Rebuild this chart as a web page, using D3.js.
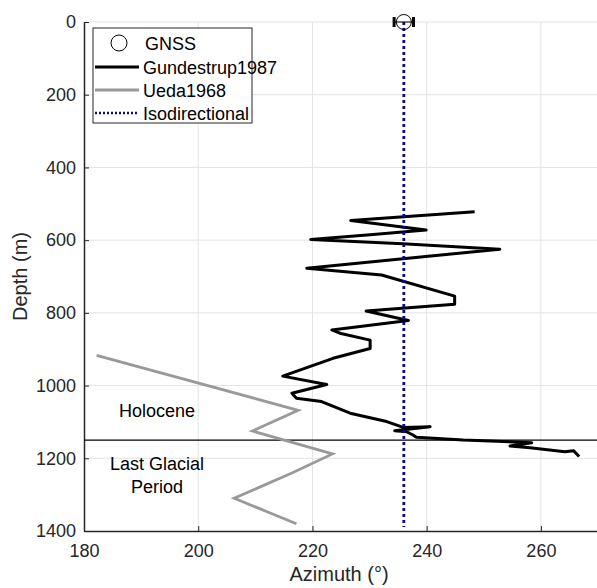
<!DOCTYPE html>
<html>
<head>
<meta charset="utf-8">
<script src="https://cdn.jsdelivr.net/npm/d3@7"></script>
<style>
  body { margin: 0; background: #fff; }
  text { font-family: "Liberation Sans", Arial, Helvetica, sans-serif; }
</style>
</head>
<body>
<div id="container"></div>
<script>
// chart size
const width = 597, height = 588,
  margin = { top: 22, bottom: 57, left: 84, right: 0 };

// DATA
// Gundestrup1987 borehole profile: azimuth (deg), depth (m)
const gundAz = [248.4, 226.7, 239.9, 230.1, 219.7, 235.8, 252.8, 219.0, 232.1, 244.9, 244.9, 229.4, 236.8, 223.4, 224.8, 230.1, 230.1, 223.6, 214.8, 222.5, 216.4, 217.2, 221.6, 226.6, 233.0, 235.9, 240.6, 234.4, 236.5, 237.6, 238.2, 246.4, 258.4, 254.6, 258.1, 264.2, 265.7, 266.7];
const gundDepth = [522, 546, 572, 585, 598, 610, 625, 677, 696, 754, 776, 795, 821, 847, 856, 875, 898, 925, 974, 997, 1021, 1035, 1044, 1076, 1099, 1115, 1113, 1124, 1127, 1136, 1142, 1150, 1157, 1166, 1171, 1182, 1179, 1195];
// Ueda1968
const uedaAz = [182.2, 217.5, 209.5, 223.5, 216.5, 206.3, 217.2];
const uedaDepth = [917, 1068, 1125, 1188, 1240, 1310, 1380];
// GNSS surface azimuth with error
const gnssAz = 236, gnssDepth = 0, gnssErr = 1.7;
// isodirectional reference
const isoAz = 236;
// Holocene / Last Glacial boundary
const boundaryDepth = 1150;

const xTicks = [180, 200, 220, 240, 260];
const yTicks = [0, 200, 400, 600, 800, 1000, 1200, 1400];
const legendLabels = ["GNSS", "Gundestrup1987", "Ueda1968", "Isodirectional"];

const axisColor = "#262626", gridColor = "#e3e3e3";

// SCALES
const xScale = d3.scaleLinear().domain([180, 270]).range([margin.left, width - margin.right + 1]);
const yScale = d3.scaleLinear().domain([0, 1400]).range([margin.top, height - margin.bottom]);

const svg = d3.select("#container").append("svg")
  .attr("width", width).attr("height", height);

// grid
svg.append("g").selectAll("line.gx")
  .data(xTicks.slice(1))
  .join("line")
  .attr("x1", d => xScale(d)).attr("x2", d => xScale(d))
  .attr("y1", yScale(0)).attr("y2", yScale(1400))
  .attr("stroke", gridColor).attr("stroke-width", 1);
svg.append("g").selectAll("line.gy")
  .data(yTicks.slice(0, -1))
  .join("line")
  .attr("x1", xScale(180)).attr("x2", xScale(270))
  .attr("y1", d => yScale(d)).attr("y2", d => yScale(d))
  .attr("stroke", gridColor).attr("stroke-width", 1);

// axes (ticks inside, like matlab)
const xAxis = d3.axisBottom(xScale).tickValues(xTicks).tickFormat(d3.format("d"))
  .tickSizeInner(-5).tickSizeOuter(0).tickPadding(13);
const yAxis = d3.axisLeft(yScale).tickValues(yTicks).tickFormat(d3.format("d"))
  .tickSizeInner(-5).tickSizeOuter(0).tickPadding(8);

const gx = svg.append("g")
  .attr("transform", `translate(0,${yScale(1400)})`)
  .call(xAxis);
const gy = svg.append("g")
  .attr("transform", `translate(${xScale(180)},0)`)
  .call(yAxis);
[gx, gy].forEach(g => {
  g.select(".domain").attr("stroke", axisColor).attr("stroke-width", 1.5);
  g.selectAll(".tick line").attr("stroke", axisColor);
  g.selectAll(".tick text").attr("fill", axisColor).style("font-size", "18px")
    .style("font-family", "'Liberation Sans', Arial, sans-serif");
});

// axis labels
svg.append("text")
  .attr("x", (xScale(180) + xScale(270)) / 2 - 2).attr("y", 581)
  .attr("text-anchor", "middle").attr("fill", axisColor)
  .style("font-size", "20px").text("Azimuth (°)");
svg.append("text")
  .attr("transform", `translate(27,${(yScale(0) + yScale(1400)) / 2}) rotate(-90)`)
  .attr("text-anchor", "middle").attr("fill", axisColor)
  .style("font-size", "20px").text("Depth (m)");

// boundary line
svg.append("line")
  .attr("x1", xScale(180)).attr("x2", xScale(270))
  .attr("y1", yScale(boundaryDepth)).attr("y2", yScale(boundaryDepth))
  .attr("stroke", "#000").attr("stroke-width", 1.2);

const line = d3.line().x(d => xScale(d[0])).y(d => yScale(d[1]));

// Ueda
svg.append("path")
  .datum(uedaAz.map((a, i) => [a, uedaDepth[i]]))
  .attr("d", line)
  .attr("fill", "none").attr("stroke", "#999999").attr("stroke-width", 2.8);

// Gundestrup
svg.append("path")
  .datum(gundAz.map((a, i) => [a, gundDepth[i]]))
  .attr("d", line)
  .attr("fill", "none").attr("stroke", "#000").attr("stroke-width", 3)
  .attr("stroke-linejoin", "round");

// isodirectional
svg.append("line")
  .attr("x1", xScale(isoAz)).attr("x2", xScale(isoAz))
  .attr("y1", yScale(0)).attr("y2", yScale(1400) - 4)
  .attr("stroke", "#0a0a8c").attr("stroke-width", 2.8)
  .attr("stroke-dasharray", "3,3");

// GNSS point with horizontal error bar
const gy0 = yScale(gnssDepth);
svg.append("line")
  .attr("x1", xScale(gnssAz - gnssErr)).attr("x2", xScale(gnssAz + gnssErr))
  .attr("y1", gy0).attr("y2", gy0)
  .attr("stroke", "#000").attr("stroke-width", 1);
[gnssAz - gnssErr, gnssAz + gnssErr].forEach(v => {
  svg.append("line")
    .attr("x1", xScale(v)).attr("x2", xScale(v))
    .attr("y1", gy0 - 5).attr("y2", gy0 + 5)
    .attr("stroke", "#000").attr("stroke-width", 3);
});
svg.append("circle")
  .attr("cx", xScale(gnssAz)).attr("cy", gy0).attr("r", 7.5)
  .attr("fill", "none").attr("stroke", "#000").attr("stroke-width", 1);

// period labels
const periodText = [
  { t: "Holocene", y: 417 },
  { t: "Last Glacial", y: 470 },
  { t: "Period", y: 493 }
];
svg.selectAll("text.period")
  .data(periodText)
  .join("text")
  .attr("x", 157).attr("y", d => d.y)
  .attr("text-anchor", "middle").attr("fill", "#000")
  .style("font-size", "18px").text(d => d.t);

// LEGEND
const lg = svg.append("g").attr("transform", "translate(93,28)");
lg.append("rect").attr("width", 159).attr("height", 95)
  .attr("fill", "#fff").attr("stroke", "#262626").attr("stroke-width", 1);
const rowY = [15, 39, 62, 85];
lg.append("circle").attr("cx", 26).attr("cy", rowY[0]).attr("r", 8)
  .attr("fill", "none").attr("stroke", "#000");
lg.append("line").attr("x1", 2).attr("x2", 46).attr("y1", rowY[1]).attr("y2", rowY[1])
  .attr("stroke", "#000").attr("stroke-width", 3);
lg.append("line").attr("x1", 2).attr("x2", 46).attr("y1", rowY[2]).attr("y2", rowY[2])
  .attr("stroke", "#999999").attr("stroke-width", 2.8);
lg.append("line").attr("x1", 2).attr("x2", 46).attr("y1", rowY[3]).attr("y2", rowY[3])
  .attr("stroke", "#0a0a8c").attr("stroke-width", 2.5).attr("stroke-dasharray", "2,2");
lg.selectAll("text.leg")
  .data(legendLabels)
  .join("text")
  .attr("x", d => d === "GNSS" ? 52 : 50).attr("y", (d, i) => rowY[i] + 6.5)
  .attr("fill", "#000").style("font-size", "18px")
  .text(d => d);
</script>
</body>
</html>
